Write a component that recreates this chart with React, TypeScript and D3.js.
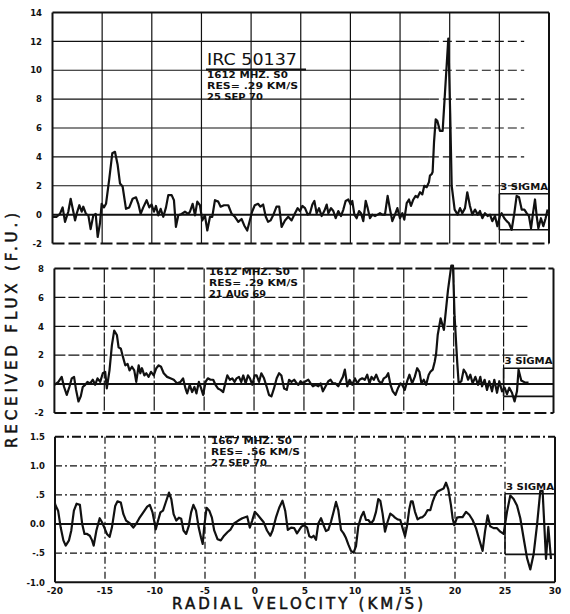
import React from "react";
import * as d3 from "d3";

// ---------- data ----------
const xTicks = [-20, -15, -10, -5, 0, 5, 10, 15, 20, 25, 30];
const xTickLabels = ["-20", "-15", "-10", "-5", "0", "5", "10", "15", "20", "25", "30"];
const gridVel = [-15, -10, -5, 0, 5, 10, 15, 20, 25];

const topYTicks = [-2, 0, 2, 4, 6, 8, 10, 12, 14];
const topYLabels = ["-2", "0", "2", "4", "6", "8", "10", "12", "14"];
const midYTicks = [-2, 0, 2, 4, 6, 8];
const midYLabels = ["-2", "0", "2", "4", "6", "8"];
const botYTicks = [-1, -0.5, 0, 0.5, 1, 1.5];
const botYLabels = ["-1.0", "-.5", "0.0", ".5", "1.0", "1.5"];

const sigmaTop = [1.45, -1.05];
const sigmaMid = [1.1, -0.85];
const sigmaBot = [0.52, -0.52];

const titleTop = "IRC 50137";
const annotTop = ["1612 MHZ. S0", "RES= .29 KM/S", "25 SEP 70"];
const annotMid = ["1612 MHZ. S0", "RES= .29 KM/S", "21 AUG 69"];
const annotBot = ["1667 MHZ. S0", "RES= .56 KM/S", "27 SEP 70"];

const spectrumTop: [number, number][] = [
  [-20, -0.15], [-19.58, -0.15], [-19.25, 0.05], [-18.98, 0.5], [-18.74, -0.5], [-18.41, 0.2], [-18.17, 1.1],
  [-17.9, 0.2], [-17.73, -0.4], [-17.57, 0.05], [-17.3, 0.65], [-17.06, 0.2], [-16.9, 0.55], [-16.63, 0.05],
  [-16.39, -0.05], [-16.16, -1.0], [-15.89, -0.05], [-15.65, 0.05], [-15.45, -1.55], [-15.22, -0.6], [-15.05, 0.75],
  [-14.82, 0.5], [-14.61, 0.75], [-14.28, 2.5], [-13.98, 4.25], [-13.71, 4.35], [-13.44, 3.45], [-13.2, 2.15],
  [-12.94, 1.95], [-12.6, 0.4], [-12.27, 0.5], [-11.93, 1.1], [-11.59, 1.2], [-11.36, 0.75], [-11.12, 0.05],
  [-10.86, 0.5], [-10.52, 1.0], [-10.25, 0.5], [-10.02, 0.7], [-9.78, 0.2], [-9.58, 0.6], [-9.35, -0.05],
  [-9.11, 0.4], [-8.84, -0.15], [-8.57, 0.5], [-8.34, 1.35], [-8.0, 1.35], [-7.77, 1.0], [-7.57, -0.85],
  [-7.33, -0.05], [-7.0, 0.05], [-6.66, 0.2], [-6.33, 0.05], [-6.16, 0.2], [-5.89, 0.75], [-5.65, -0.05],
  [-5.42, 0.9], [-5.15, 0.65], [-4.92, -0.4], [-4.65, -0.05], [-4.41, -1.1], [-4.14, -0.15], [-3.91, -0.15],
  [-3.64, 1.0], [-3.31, 0.9], [-3.07, 0.55], [-2.73, 0.65], [-2.3, 0.65], [-1.96, 0.05], [-1.63, -0.15],
  [-1.29, -0.5], [-0.96, -0.3], [-0.69, -0.75], [-0.39, -1.1], [-0.13, -0.4], [0.1, 0.2], [0.37, 0.65],
  [0.7, 0.75], [0.94, 0.55], [1.21, 0.7], [1.48, -0.15], [1.71, -0.5], [1.96, -0.4], [2.22, -0.05],
  [2.56, 0.55], [2.83, 0.55], [3.07, -0.85], [3.41, -0.4], [3.74, -0.15], [4.08, -0.4], [4.42, 0.1],
  [4.69, 0.45], [4.92, 0.25], [5.16, 0.6], [5.43, 0.45], [5.7, 0], [5.93, 0.1], [6.17, 0.7], [6.37, 0.95],
  [6.6, 0.1], [6.84, 0.45], [7.11, -0.1], [7.37, 0.25], [7.61, 0.7], [7.78, 0.1], [8.05, 0.45], [8.28, 0.25],
  [8.52, -0.25], [8.78, 0.25], [9.05, -0.1], [9.29, 0.35], [9.52, 0.95], [9.79, 1.05], [10.03, 0.7],
  [10.19, 0.95], [10.4, 0], [10.63, -0.25], [10.87, 0.25], [11.07, 0.1], [11.3, -0.45], [11.54, 0.95],
  [11.74, 0.45], [11.97, -0.25], [12.21, 0], [12.48, -0.1], [12.74, 0], [12.98, 0.1], [13.21, 0], [13.48, 0],
  [13.75, 1.3], [13.99, 0.35], [14.22, -0.45], [14.49, 0], [14.73, 0.45], [14.99, -0.25], [15.23, 0.1],
  [15.43, -0.35], [15.67, 0.8], [15.9, 1.05], [16.1, 0.6], [16.34, 1.05], [16.57, 1.3], [16.77, 1.2],
  [17.01, 1.55], [17.24, 1.4], [17.44, 2.0], [17.68, 1.9], [17.91, 2.25], [18.01, 2.7], [18.18, 2.8],
  [18.28, 2.95], [18.42, 5.0], [18.59, 6.6], [18.75, 6.5], [19.02, 5.8], [19.29, 5.8], [19.53, 8.5],
  [19.86, 12.2], [20.05, 7.0], [20.2, 2.0], [20.5, 0.35], [20.8, 0], [21.04, 0.45], [21.27, 0.1],
  [21.54, 0.45], [21.77, 1.55], [22.04, 0.6], [22.28, 0], [22.55, 0.35], [22.82, 0], [23.05, 0.25],
  [23.29, -0.25], [23.55, 0.1], [23.82, -0.1], [24.06, 0], [24.29, -0.45], [24.56, -0.1], [24.8, -0.8],
  [25.06, -0.1], [25.23, 0.1], [25.5, -0.25], [25.74, -0.45], [25.97, -0.6], [26.24, -1.05], [26.51, 0.1],
  [26.74, 1.3], [26.98, 1.2], [27.25, 0.35], [27.52, 0.35], [27.75, 0.1], [27.98, -0.1], [28.19, -0.95],
  [28.39, 0.1], [28.59, 1.05], [28.76, -0.1], [28.93, -0.95], [29.19, -0.25], [29.43, -0.8], [29.66, -0.25],
  [29.86, 0.35],
];

const spectrumMid: [number, number][] = [
  [-20, -0.05], [-19.6, 0.15], [-19.27, 0.5], [-19.03, -0.2], [-18.76, -0.75], [-18.5, -0.2], [-18.26, 0.4],
  [-18.03, 0.5], [-17.83, -0.4], [-17.59, -1.2], [-17.36, -0.85], [-17.16, -0.2], [-16.92, -0.05],
  [-16.69, 0.15], [-16.42, 0.05], [-16.15, 0.3], [-15.92, -0.05], [-15.68, 0.4], [-15.41, 0.15],
  [-15.15, 0.75], [-14.91, 0.85], [-14.75, -0.3], [-14.48, 0.95], [-14.24, 2.7], [-14.01, 3.7],
  [-13.74, 3.4], [-13.57, 2.55], [-13.34, 2.45], [-13.14, 1.9], [-12.9, 1.3], [-12.67, 1.4], [-12.47, 0.95],
  [-12.23, 1.2], [-12.0, 0.95], [-11.8, 0.15], [-11.56, 1.3], [-11.39, 0.75], [-11.23, 1.1], [-10.99, 0.6],
  [-10.79, 0.75], [-10.56, 0.5], [-10.32, 0.85], [-10.05, 0.6], [-9.79, 1.1], [-9.55, 1.3], [-9.32, 1.2],
  [-9.05, 0.75], [-8.71, 0.5], [-8.38, 0.4], [-8.04, 0.3], [-7.71, 0.05], [-7.37, 0.15], [-7.11, 0.4],
  [-6.87, -0.3], [-6.7, -0.65], [-6.44, -0.05], [-6.2, -0.55], [-5.97, -0.2], [-5.77, -0.65], [-5.53, 0.15],
  [-5.3, -0.3], [-5.1, -0.75], [-4.86, 0.15], [-4.63, 0.4], [-4.36, 0.3], [-4.09, 0.3], [-3.86, -0.05],
  [-3.62, -0.3], [-3.35, -0.4], [-3.09, -0.55], [-2.85, 0.15], [-2.68, 0.6], [-2.42, 0.3], [-2.18, 0.4],
  [-1.95, 0.15], [-1.75, 0.4], [-1.51, 0.5], [-1.28, 0.15], [-1.08, 0.6], [-0.84, 0.05], [-0.61, 0.6],
  [-0.41, 0.4], [-0.17, -0.05], [0.06, 0.6], [0.26, 0.6], [0.5, 0.15], [0.73, 0.75], [1.0, 0.4],
  [1.27, -0.2], [1.5, -0.75], [1.74, -0.85], [2.0, -0.3], [2.27, 0.4], [2.51, 0.75], [2.74, 0.6],
  [3.01, -0.3], [3.28, -0.4], [3.51, 0.3], [3.75, 0.15], [4.02, 0.3], [4.28, 0.05], [4.44, -0.05],
  [4.67, 0.2], [4.9, 0.05], [5.17, 0.2], [5.44, 0.3], [5.67, 0.05], [5.9, -0.15], [6.17, -0.05],
  [6.44, -0.15], [6.67, 0.05], [6.9, -0.5], [7.17, -0.15], [7.44, 0.2], [7.67, 0.3], [7.9, 0.05],
  [8.17, 0.05], [8.44, -0.15], [8.67, 0.2], [8.9, 0.5], [9.1, 1.0], [9.34, -0.15], [9.57, 0.3],
  [9.84, -0.05], [10.1, 0.4], [10.34, 0.05], [10.57, 0.3], [10.84, 0.4], [11.1, 0.3], [11.34, 0.65],
  [11.57, 0.05], [11.77, 0.5], [12.0, 0.3], [12.24, 0.65], [12.5, 0.2], [12.77, 0.05], [13.0, 0.4],
  [13.24, 0.5], [13.44, 0.75], [13.67, -0.05], [13.9, -0.5], [14.17, -0.75], [14.44, -0.25], [14.67, 0.05],
  [14.84, -0.05], [15.1, -0.4], [15.34, 0.2], [15.57, 0.65], [15.84, 0.05], [16.1, 0.5], [16.34, 1.1],
  [16.57, 0.85], [16.77, 0.05], [17.0, 0.3], [17.24, -0.05], [17.5, 0.65], [17.67, 0.85], [17.9, 1.0],
  [18.1, 1.55], [18.24, 2.1], [18.4, 3.4], [18.69, 4.55], [19.02, 3.75], [19.43, 6.5], [19.76, 8.2],
  [19.93, 8.2], [20.09, 4.7], [20.36, 1.45], [20.5, 0.05], [20.77, 0.2], [21.0, 1.0], [21.24, 0.75],
  [21.44, 0.3], [21.67, 0.65], [21.9, 0.05], [22.17, 0.5], [22.44, -0.05], [22.67, 0.5], [22.84, -0.15],
  [23.1, 0.3], [23.34, -0.4], [23.57, 0.2], [23.84, -0.5], [24.07, 0.3], [24.34, -0.6], [24.57, 0.2],
  [24.84, -0.5], [25.1, -0.25], [25.34, -0.7], [25.57, -0.25], [25.84, -0.6], [26.1, -1.2], [26.34, -0.5],
  [26.5, 1.0], [26.77, 0.25], [27.17, 0.1], [27.5, 0.1],
];

const spectrumBot: [number, number][] = [
  [-20, 0.35], [-19.92, 0.31], [-19.69, 0.23], [-19.43, -0.06], [-19.16, -0.28], [-18.93, -0.37], [-18.6, -0.28],
  [-18.37, -0.11], [-18.11, 0.23], [-17.84, 0.35], [-17.51, 0.33], [-17.28, 0], [-17.05, -0.17], [-16.79, -0.17],
  [-16.52, -0.2], [-16.29, -0.28], [-16.13, -0.37], [-15.86, -0.11], [-15.53, 0.1], [-15.3, 0.03],
  [-15.07, -0.06], [-14.81, -0.17], [-14.54, -0.22], [-14.31, -0.06], [-13.98, 0.31], [-13.75, 0.39],
  [-13.42, 0.37], [-13.16, 0.17], [-12.89, 0.06], [-12.5, 0.01], [-12.17, -0.06], [-11.9, 0], [-11.57, 0.1],
  [-11.17, 0.2], [-10.78, 0.3], [-10.52, 0.33], [-10.25, 0.2], [-9.92, -0.09], [-9.69, 0.06], [-9.46, 0.2],
  [-9.2, 0.23], [-8.93, 0.37], [-8.6, 0.54], [-8.37, 0.43], [-8.14, 0.17], [-7.87, 0.06], [-7.61, 0.11],
  [-7.38, 0.09], [-7.15, -0.11], [-6.88, -0.17], [-6.62, -0.03], [-6.39, 0.2], [-6.16, 0.33], [-5.9, 0.23],
  [-5.63, -0.06], [-5.4, -0.23], [-5.23, -0.34], [-5.07, -0.03], [-4.84, 0.28], [-4.57, 0.23], [-4.31, 0.11],
  [-4.08, -0.11], [-3.75, -0.26], [-3.42, -0.28], [-3.09, -0.2], [-2.76, -0.14], [-2.43, -0.09], [-2.1, 0.01],
  [-1.67, 0.06], [-1.27, 0.1], [-0.78, 0.13], [-0.52, -0.06], [-0.28, 0.06], [-0.02, 0.21], [0.21, 0.17],
  [0.54, 0.1], [0.87, 0.03], [1.2, -0.11], [1.53, -0.2], [1.76, -0.11], [2.09, 0.11], [2.42, 0.28],
  [2.75, 0.4], [3.02, 0.23], [3.28, -0.1], [3.61, -0.06], [3.93, -0.07], [4.2, -0.16], [4.43, -0.1],
  [4.66, -0.04], [4.93, -0.02], [5.2, -0.06], [5.43, -0.21], [5.66, -0.23], [5.86, -0.2], [6.1, -0.27],
  [6.33, 0.01], [6.6, 0.1], [6.86, -0.02], [7.1, -0.12], [7.33, -0.1], [7.6, 0.04], [7.86, 0.21], [8.1, 0.38],
  [8.33, 0.24], [8.6, -0.1], [8.86, -0.16], [9.1, -0.24], [9.33, -0.35], [9.6, -0.46], [9.86, -0.49],
  [10.1, -0.38], [10.33, -0.04], [10.6, 0.12], [10.86, 0.21], [11.1, 0.07], [11.33, 0.07], [11.6, 0.01],
  [11.86, 0.07], [12.1, 0.21], [12.33, 0.43], [12.53, 0.4], [12.76, 0.18], [13.0, -0.13], [13.26, 0.04],
  [13.53, 0.18], [13.76, 0.15], [14.0, 0.11], [14.26, 0.08], [14.53, 0.07], [14.76, -0.07], [15.0, -0.21],
  [15.2, -0.04], [15.43, 0.26], [15.6, 0.39], [15.76, 0.39], [16.0, 0.21], [16.26, 0.08], [16.53, 0.11],
  [16.76, 0.12], [17.0, 0.16], [17.26, 0.24], [17.53, 0.24], [17.76, 0.38], [18.0, 0.49], [18.26, 0.56],
  [18.6, 0.59], [18.86, 0.61], [19.1, 0.71], [19.33, 0.6], [19.6, 0.32], [19.76, 0.1], [19.93, -0.02],
  [20.2, 0.11], [20.43, 0.12], [20.76, 0.12], [21.1, 0.21], [21.43, 0.16], [21.76, 0.07], [22.1, -0.07],
  [22.43, -0.27], [22.76, -0.46], [23.0, -0.13], [23.26, 0.15], [23.53, -0.04], [23.86, -0.07], [24.2, -0.07],
  [24.53, -0.13], [24.86, -0.17], [25.2, 0.21], [25.53, 0.49], [25.86, 0.43], [26.2, 0.32], [26.53, 0.1],
  [26.86, -0.24], [27.2, -0.58], [27.53, -0.78], [27.86, -0.52], [28.2, -0.02], [28.53, 0.57], [28.76, 0.57],
  [29.1, -0.6], [29.33, -0.05], [29.6, -0.6],
];

// ---------- layout ----------
const W = 570;
const H = 614;
const INK = "#111";
const FONT = "'DejaVu Sans', 'Liberation Sans', sans-serif";

type Panel = {
  key: string;
  data: [number, number][];
  xRange: [number, number];
  yDomain: [number, number];
  yRange: [number, number];
  yTicks: number[];
  yLabels: string[];
  labelRight: number;
  sigma: number[];
  annot: string[];
  annotX: number;
  annotY: number;
  annotW: number[];
  gridStyle: "solid" | "dash" | "dashdot";
};

const panels: Panel[] = [
  {
    key: "top", data: spectrumTop, xRange: [52.5, 549], yDomain: [-2, 14], yRange: [243.5, 12.5],
    yTicks: topYTicks, yLabels: topYLabels, labelRight: 42, sigma: sigmaTop, annot: annotTop,
    annotX: 207, annotY: 78, annotW: [81, 91, 56], gridStyle: "solid",
  },
  {
    key: "mid", data: spectrumMid, xRange: [54.4, 553.5], yDomain: [-2, 8], yRange: [413, 268.5],
    yTicks: midYTicks, yLabels: midYLabels, labelRight: 44, sigma: sigmaMid, annot: annotMid,
    annotX: 209, annotY: 275, annotW: [81, 89, 57], gridStyle: "dash",
  },
  {
    key: "bot", data: spectrumBot, xRange: [55, 555], yDomain: [-1, 1.5], yRange: [582.3, 436.7],
    yTicks: botYTicks, yLabels: botYLabels, labelRight: 45, sigma: sigmaBot, annot: annotBot,
    annotX: 211, annotY: 444, annotW: [81, 89, 56], gridStyle: "dashdot",
  },
];

function PanelView({ p, isBottom }: { p: Panel; isBottom: boolean }) {
  const x = d3.scaleLinear().domain([-20, 30]).range(p.xRange);
  const y = d3.scaleLinear().domain(p.yDomain).range(p.yRange);
  const [y0, y1] = p.yDomain;
  const line = d3.line<[number, number]>().x((d) => x(d[0])).y((d) => y(d[1]));
  const innerTicks = p.yTicks.filter((t) => t !== y0 && t !== y1 && t !== 0);

  const dashV = p.gridStyle === "dashdot" ? "7,3,2,3" : p.gridStyle === "dash" ? "14,2" : undefined;
  const dashH = p.gridStyle === "dashdot" ? "7,3,2,3" : "11,3";

  return (
    <g>
      {gridVel.map((v) => (
        <line key={"v" + v} x1={x(v)} x2={x(v)} y1={y(y1)} y2={y(y0)} stroke={INK}
          strokeWidth={1.2} strokeDasharray={dashV} />
      ))}
      {innerTicks.map((t) =>
        p.gridStyle === "solid" ? (
          <g key={"h" + t}>
            <line x1={x(-20)} x2={x(18)} y1={y(t)} y2={y(t)} stroke={INK} strokeWidth={1.2} />
            <line x1={x(18)} x2={x(27.5)} y1={y(t)} y2={y(t)} stroke={INK} strokeWidth={1.2} strokeDasharray="9,4" />
          </g>
        ) : (
          <line key={"h" + t} x1={x(-20)} x2={x(p.gridStyle === "dash" ? 27.5 : 25)} y1={y(t)} y2={y(t)}
            stroke={INK} strokeWidth={1.2} strokeDasharray={dashH} />
        )
      )}
      <line x1={x(-20)} x2={x(30)} y1={y(0)} y2={y(0)} stroke={INK} strokeWidth={2} />
      <line x1={x(-20)} x2={x(-20)} y1={y(y1)} y2={y(y0)} stroke={INK} strokeWidth={2} />
      <line x1={x(30)} x2={x(30)} y1={y(y1)} y2={y(y0)} stroke={INK} strokeWidth={2} />
      <line x1={x(-20)} x2={x(30)} y1={y(y1)} y2={y(y1)} stroke={INK} strokeWidth={2}
        strokeDasharray={p.gridStyle === "solid" ? undefined : p.gridStyle === "dash" ? "16,3" : "9,3,2,3"} />
      <line x1={x(-20)} x2={x(30)} y1={y(y0)} y2={y(y0)} stroke={INK} strokeWidth={2}
        strokeDasharray={isBottom ? undefined : "12,4"} />
      <line x1={x(25)} x2={x(30)} y1={y(p.sigma[0])} y2={y(p.sigma[0])} stroke={INK} strokeWidth={1.6} />
      <line x1={x(25)} x2={x(30)} y1={y(p.sigma[1])} y2={y(p.sigma[1])} stroke={INK} strokeWidth={1.6} />
      <line x1={x(25)} x2={x(25)} y1={y(p.sigma[0])} y2={y(p.sigma[1])} stroke={INK} strokeWidth={1.6} />
      <text x={x(25.1)} y={y(p.sigma[0]) - 4} fontFamily={FONT} fontWeight="bold" fontSize={9}
        textLength={x(29.9) - x(25.1)} lengthAdjust="spacingAndGlyphs" fill={INK}>3 SIGMA</text>
      <path d={line(p.data) || ""} fill="none" stroke={INK} strokeWidth={2.2} strokeLinejoin="round" />
      {p.yTicks.map((t, i) => (
        <text key={"yl" + t} x={p.labelRight} y={y(t) + 3.2} textAnchor="end" fontFamily={FONT}
          fontWeight="bold" fontSize={8.5} fill={INK}>{p.yLabels[i]}</text>
      ))}
      {p.annot.map((s, i) => (
        <text key={"an" + i} x={p.annotX} y={p.annotY + i * 11} fontFamily={FONT} fontWeight="bold"
          fontSize={8.5} textLength={p.annotW[i]} lengthAdjust="spacingAndGlyphs" fill={INK}>{s}</text>
      ))}
      {isBottom &&
        xTicks.map((v, i) => (
          <text key={"xl" + v} x={x(v)} y={593.5} textAnchor="middle" fontFamily={FONT} fontWeight="bold"
            fontSize={9} fill={INK}>{xTickLabels[i]}</text>
        ))}
    </g>
  );
}

export default function App() {
  return (
    <svg width={W} height={H} viewBox={`0 0 ${W} ${H}`}
      style={{ position: "absolute", left: 0, top: 0, background: "#fff" }}>
      <rect x={0} y={0} width={W} height={H} fill="#fff" />
      {panels.map((p, i) => (
        <PanelView key={p.key} p={p} isBottom={i === panels.length - 1} />
      ))}
      <text x={207} y={65} fontFamily={FONT} fontSize={15.5} textLength={90}
        lengthAdjust="spacingAndGlyphs" fill={INK}>{titleTop}</text>
      <line x1={206} x2={306} y1={69.5} y2={69.5} stroke={INK} strokeWidth={2} />
      <text x={172} y={609} fontFamily={FONT} fontSize={15} textLength={251} lengthAdjust="spacing"
        fill={INK} stroke={INK} strokeWidth={0.5}>RADIAL  VELOCITY  (KM/S)</text>
      <text transform="translate(16.5,448) rotate(-90)" x={0} y={0} fontFamily={FONT} fontSize={15}
        textLength={235} lengthAdjust="spacing" fill={INK} stroke={INK} strokeWidth={0.5}>RECEIVED  FLUX  (F.U.)</text>
    </svg>
  );
}
